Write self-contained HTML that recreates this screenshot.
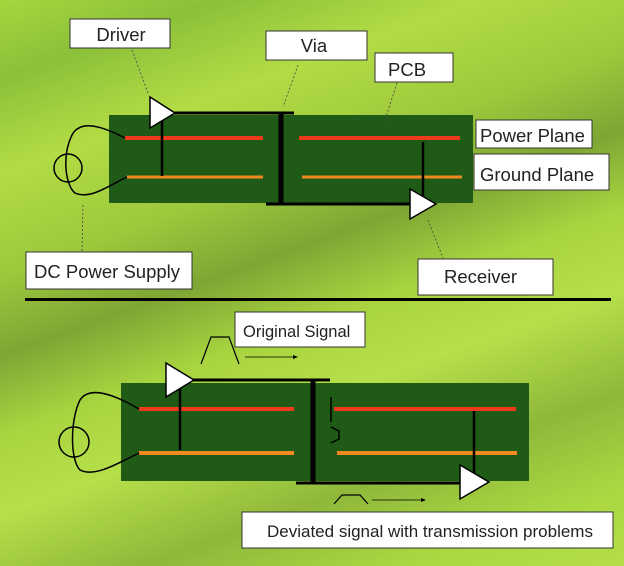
<!DOCTYPE html>
<html><head><meta charset="utf-8"><style>
html,body{margin:0;padding:0}
body{width:624px;height:566px;overflow:hidden;position:relative;
background:linear-gradient(160deg,#a6d63e 0%,#8cc03a 10%,#b2dc45 22%,#9cc83c 35%,#7ea634 45%,#a8d440 55%,#b6e04a 65%,#8fb83a 78%,#aad842 90%,#b4de48 100%);
font-family:"Liberation Sans",sans-serif}
svg{position:absolute;left:0;top:0}
</style></head><body>
<svg width="624" height="566" viewBox="0 0 624 566">
<g font-family="Liberation Sans, sans-serif" fill="#222">
<!-- top PCB -->
<rect x="109" y="115" width="364" height="88" fill="#1f5a17"/>
<line x1="125" y1="138" x2="263" y2="138" stroke="#f03a1c" stroke-width="4"/>
<line x1="299" y1="138" x2="460" y2="138" stroke="#f03a1c" stroke-width="4"/>
<line x1="127" y1="177" x2="263" y2="177" stroke="#f08a20" stroke-width="3"/>
<line x1="302" y1="177" x2="462" y2="177" stroke="#f08a20" stroke-width="3"/>
<line x1="171" y1="113" x2="294" y2="113" stroke="#000" stroke-width="3"/>
<line x1="266" y1="204" x2="414" y2="204" stroke="#000" stroke-width="3"/>
<line x1="281" y1="113" x2="281" y2="204" stroke="#000" stroke-width="5"/>
<line x1="162" y1="113" x2="162" y2="176" stroke="#000" stroke-width="2.5"/>
<line x1="423" y1="142" x2="423" y2="198" stroke="#000" stroke-width="2.5"/>
<polygon points="150,97 175,113 150,128" fill="#fff" stroke="#000" stroke-width="1.5"/>
<polygon points="410,189 436,204 410,219" fill="#fff" stroke="#000" stroke-width="1.5"/>
<path d="M125,138 C100,125 80,120 72,135 C62,155 65,185 75,193 C90,200 110,185 127,177" fill="none" stroke="#000" stroke-width="1.5"/>
<circle cx="68" cy="168" r="14" fill="none" stroke="#000" stroke-width="1.5"/>
<g stroke="#444" stroke-width="0.8" stroke-dasharray="2,2">
<line x1="132" y1="50" x2="148" y2="93"/>
<line x1="298" y1="65" x2="283" y2="107"/>
<line x1="397" y1="83" x2="384" y2="123"/>
<line x1="428" y1="220" x2="443" y2="258"/>
<line x1="83" y1="205" x2="82" y2="252"/>
</g>
<g fill="#fff" stroke="#333" stroke-width="1">
<rect x="70" y="19" width="100" height="29"/>
<rect x="266" y="31" width="101" height="29"/>
<rect x="375" y="53" width="78" height="29"/>
<rect x="476" y="120" width="116" height="28"/>
<rect x="474" y="154" width="135" height="36"/>
<rect x="26" y="252" width="166" height="37"/>
<rect x="418" y="259" width="135" height="36"/>
<rect x="235" y="312" width="130" height="35"/>
<rect x="242" y="512" width="371" height="36"/>
</g>
<g font-size="18.5">
<text x="121" y="41" text-anchor="middle">Driver</text>
<text x="314" y="52" text-anchor="middle">Via</text>
<text x="388" y="76">PCB</text>
<text x="480" y="142">Power Plane</text>
<text x="480" y="181">Ground Plane</text>
<text x="34" y="278">DC Power Supply</text>
<text x="444" y="283">Receiver</text>
</g>
<rect x="25" y="298" width="586" height="3" fill="#000"/>
<!-- bottom PCB -->
<rect x="121" y="383" width="408" height="98" fill="#1f5a17"/>
<line x1="139" y1="409" x2="294" y2="409" stroke="#f03a1c" stroke-width="4"/>
<line x1="334" y1="409" x2="516" y2="409" stroke="#f03a1c" stroke-width="4"/>
<line x1="139" y1="453" x2="294" y2="453" stroke="#f08a20" stroke-width="4"/>
<line x1="337" y1="453" x2="517" y2="453" stroke="#f08a20" stroke-width="4"/>
<line x1="191" y1="380" x2="330" y2="380" stroke="#000" stroke-width="3"/>
<line x1="296" y1="483" x2="462" y2="483" stroke="#000" stroke-width="3"/>
<line x1="313" y1="380" x2="313" y2="483" stroke="#000" stroke-width="5"/>
<line x1="180" y1="380" x2="180" y2="450" stroke="#000" stroke-width="2.5"/>
<line x1="474" y1="411" x2="474" y2="483" stroke="#000" stroke-width="2.5"/>
<line x1="331" y1="397" x2="331" y2="422" stroke="#000" stroke-width="1.5"/>
<polyline points="331,427 339,431 339,439 331,443" fill="none" stroke="#000" stroke-width="1.5"/>
<polygon points="166,363 194,380 166,397" fill="#fff" stroke="#000" stroke-width="1.5"/>
<polygon points="460,465 489,482 460,499" fill="#fff" stroke="#000" stroke-width="1.5"/>
<path d="M139,409 C115,395 90,385 80,400 C70,420 70,460 80,470 C95,478 120,462 139,453" fill="none" stroke="#000" stroke-width="1.5"/>
<ellipse cx="74" cy="442" rx="15" ry="15" fill="none" stroke="#000" stroke-width="1.5"/>
<polyline points="201,364 211,337 229,337 239,364" fill="none" stroke="#000" stroke-width="1.2"/>
<line x1="245" y1="357" x2="296" y2="357" stroke="#000" stroke-width="0.8"/>
<polygon points="298,357 293,355 293,359" fill="#000"/>
<polyline points="334,504 342,495 360,495 368,504" fill="none" stroke="#000" stroke-width="1.2"/>
<line x1="372" y1="500" x2="424" y2="500" stroke="#000" stroke-width="0.8"/>
<polygon points="426,500 421,498 421,502" fill="#000"/>
<text x="243" y="337" font-size="16.5">Original Signal</text>
<text x="267" y="537" font-size="17">Deviated signal with transmission problems</text>
</g>
</svg>
</body></html>
